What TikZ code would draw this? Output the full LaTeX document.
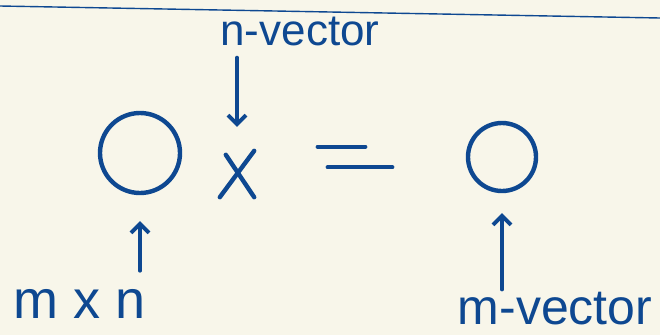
\documentclass[tikz,border=0pt]{standalone}
\usepackage{fontspec}
\setmainfont{Liberation Sans}
\usetikzlibrary{arrows.meta}
\definecolor{ink}{RGB}{14,72,145}
\definecolor{paper}{RGB}{248,246,234}
\begin{document}
\begin{tikzpicture}[x=1pt, y=-1pt, line cap=round,
    ring/.style={draw=ink, circle, line width=4.4pt, inner sep=0pt},
    lbl/.style={text=ink, font=\fontsize{44}{46}\selectfont, inner sep=0pt},
    pen/.style={draw=ink, line width=4.4pt},
    arrow/.style={-{Straight Barb[length=9pt, width=18pt]}, draw=ink, line width=3.8pt}]
    \fill[paper] (0,0) rectangle (660,335);
    \useasboundingbox (0,0) rectangle (660,335);
    % ruled line at the top of the page
    \draw[draw=ink, line width=1.4pt] (0,6) -- (660,18);
    % matrix times vector equals vector
    \node[ring, minimum size=80pt] (mat) at (140,153) {};
    \node[minimum width=34pt, minimum height=46pt, inner sep=0pt] (times) at (237,174) {};
    \draw[pen] (times.north east) -- (times.south west);
    \draw[pen] ([xshift=6pt, yshift=-4pt]times.north west) -- (times.south east);
    \node[minimum width=74pt, minimum height=20pt, inner sep=0pt] (eq) at (355,157) {};
    \draw[pen] (eq.north west) -- ([xshift=-27pt]eq.north east);
    \draw[pen] ([xshift=10pt]eq.south west) -- (eq.south east);
    \node[ring, minimum size=68pt] (res) at (502,157) {};
    % labels
    \node[lbl, anchor=base] (nvec) at (300,45) {n-vector};
    \node[lbl, anchor=base, font=\fontsize{54}{56}\selectfont] (dims) at (80,318) {m x n};
    \node[lbl, anchor=base, font=\fontsize{50}{52}\selectfont] (mvec) at (555,324) {m-vector};
    \draw[arrow, shorten <=18pt, shorten >=26pt] (mat |- dims.north) -- (mat);
    \draw[arrow, shorten <=12pt, shorten >=24pt] (times |- nvec.south) -- (times);
    \draw[arrow, shorten <=2pt, shorten >=20pt] (res |- mvec.north) -- (res);
\end{tikzpicture}
\end{document}
